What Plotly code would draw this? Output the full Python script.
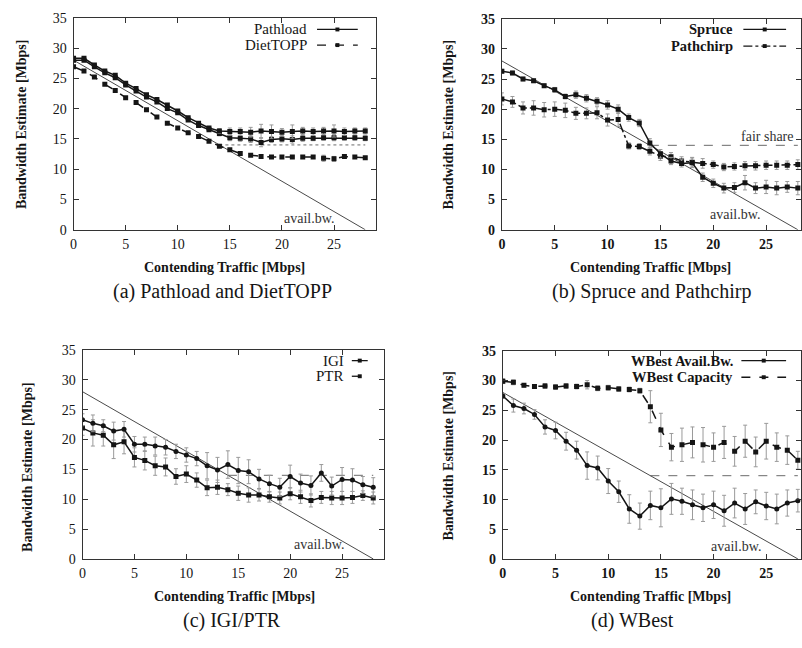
import plotly.graph_objects as go

W, H = 802, 648

# ---------------- data ----------------
x = list(range(29))

# (a) Pathload and DietTOPP
pathload_hi = [28.3, 28.3, 27.2, 26.2, 25.5, 24.2, 23.3, 22.3, 21.5, 20.6, 19.6, 18.5, 17.6, 16.8,
               16.3, 16.2, 16.2, 16.1, 16.3, 16.2, 16.1, 16.2, 16.3, 16.2, 16.3, 16.3, 16.2, 16.3, 16.3]
pathload_hi_err = [0.2] * 14 + [0.4, 0.6, 0.6, 0.8, 1.1, 1.1, 0.6, 1.1, 0.6, 0.6, 0.6, 1.0, 0.6, 0.5, 0.5]
pathload_lo = [28.0, 28.0, 26.9, 25.9, 25.1, 23.9, 22.9, 21.9, 21.1, 20.0, 19.3, 18.1, 17.2, 16.5,
               15.9, 15.2, 15.1, 15.0, 14.4, 14.9, 15.0, 14.9, 15.1, 15.1, 15.2, 15.2, 15.2, 15.2, 15.1]
pathload_lo_err = [0.2] * 14 + [0.4, 0.5, 0.5, 0.6, 0.7, 0.5, 0.5, 0.6, 0.5, 0.4, 0.4, 0.5, 0.4, 0.4, 0.4]
diettopp = [26.9, 26.2, 25.2, 24.0, 23.0, 21.8, 21.0, 19.8, 18.6, 17.6, 16.8, 16.0, 15.4, 14.6,
            13.8, 13.2, 12.6, 12.3, 12.1, 12.0, 12.0, 12.0, 12.0, 12.0, 11.8, 11.7, 12.1, 12.0, 11.9]
diettopp_err = [0.2] * 18 + [0.3, 0.2, 0.2, 0.2, 0.2, 0.2, 0.5, 0.4, 0.2, 0.2, 0.2]

# (b) Spruce and Pathchirp
spruce = [26.3, 26.0, 25.0, 24.7, 23.9, 23.2, 22.1, 22.4, 21.8, 21.3, 20.7, 20.0, 18.6, 17.7,
          14.4, 12.6, 11.4, 11.0, 11.1, 8.7, 7.7, 6.9, 7.0, 7.8, 6.9, 7.1, 6.9, 7.1, 6.9]
spruce_err = [0.3, 0.3, 0.3, 0.3, 0.3, 0.4, 0.4, 0.6, 0.6, 0.6, 0.7, 0.7, 0.6, 0.6,
              0.7, 0.7, 0.6, 0.6, 0.8, 0.7, 0.7, 0.8, 0.8, 1.2, 0.9, 1.1, 1.1, 0.9, 1.1]
pathchirp = [21.7, 21.2, 20.2, 20.2, 19.9, 20.0, 19.8, 19.3, 19.3, 19.4, 18.2, 18.3, 13.9, 13.8,
             13.0, 12.2, 12.1, 11.4, 11.2, 11.0, 10.8, 10.4, 10.5, 10.6, 10.6, 10.7, 10.7, 10.7, 10.8]
pathchirp_err = [1.0, 0.9, 1.0, 1.2, 1.2, 1.2, 1.2, 1.0, 0.9, 1.0, 1.0, 1.2, 0.5, 0.5,
                 0.6, 0.7, 0.7, 0.7, 0.8, 0.8, 0.6, 0.6, 0.6, 0.7, 0.7, 0.7, 0.7, 0.7, 0.8]

# (c) IGI / PTR
igi = [23.3, 22.7, 22.3, 21.4, 21.7, 19.2, 19.2, 18.9, 18.7, 18.0, 17.4, 16.8, 15.6, 14.9,
       15.8, 14.8, 14.6, 13.4, 12.6, 12.0, 13.8, 12.7, 12.3, 14.4, 12.2, 13.3, 13.2, 12.4, 12.0]
igi_err = [1.0, 1.4, 1.0, 1.5, 1.3, 1.3, 1.2, 1.5, 1.3, 1.2, 1.2, 1.2, 2.2, 2.1,
           2.3, 2.2, 2.0, 1.6, 1.4, 1.5, 1.9, 1.5, 1.6, 1.4, 1.5, 2.0, 1.9, 1.4, 1.6]
ptr = [21.9, 21.1, 20.7, 19.1, 19.6, 17.0, 16.5, 15.6, 15.4, 13.8, 14.2, 13.2, 11.9, 12.0,
       11.6, 11.0, 10.7, 10.7, 10.4, 10.2, 10.9, 10.4, 9.8, 10.3, 10.2, 10.2, 10.3, 10.6, 10.2]
ptr_err = [1.2, 2.2, 1.8, 2.3, 2.0, 1.6, 1.6, 1.6, 1.5, 1.3, 1.4, 1.2, 1.3, 1.2,
           1.0, 1.2, 1.2, 1.0, 0.9, 1.0, 1.0, 1.1, 1.1, 1.0, 1.1, 1.1, 1.0, 0.8, 1.0]

# (d) WBest
wbest_avail = [27.4, 25.8, 25.3, 24.3, 22.2, 21.6, 19.8, 18.3, 15.7, 15.3, 13.1, 11.3, 8.4, 7.2,
               9.0, 8.6, 10.1, 9.7, 9.1, 8.6, 9.1, 8.1, 9.4, 8.4, 9.6, 8.9, 8.4, 9.4, 9.8]
wbest_avail_err = [0.4, 1.1, 0.9, 0.8, 1.2, 1.4, 1.5, 1.5, 2.3, 2.0, 2.1, 1.8, 2.4, 2.2,
                   2.4, 3.2, 2.6, 2.2, 2.5, 2.3, 2.3, 2.6, 2.5, 2.6, 2.0, 2.3, 2.5, 2.2, 1.9]
wbest_cap = [29.9, 29.7, 29.2, 29.0, 29.1, 28.9, 29.1, 29.0, 29.3, 28.7, 28.8, 28.6, 28.5, 28.3,
             25.6, 21.7, 18.8, 19.2, 19.6, 19.2, 18.8, 19.6, 18.1, 19.8, 18.0, 19.8, 18.8, 18.3, 16.6]
wbest_cap_err = [0.4, 0.4, 0.3, 0.3, 0.4, 0.4, 0.4, 0.4, 0.7, 0.4, 0.4, 0.4, 0.4, 0.4,
                 2.7, 2.8, 2.3, 2.8, 2.6, 2.9, 2.4, 2.7, 2.5, 2.7, 2.5, 3.0, 2.4, 2.4, 1.5]

# reference lines
avail_x = [0, 28]
avail_y = [28, 0]
fair_x = [14, 28]
fair_y = [14, 14]

x_tick_vals = [0, 5, 10, 15, 20, 25]
y_tick_vals = [0, 5, 10, 15, 20, 25, 30, 35]

captions = ["(a) Pathload and DietTOPP", "(b) Spruce and Pathchirp", "(c) IGI/PTR", "(d) WBest"]
x_title = "Contending Traffic [Mbps]"
y_title = "Bandwidth Estimate [Mbps]"

# ---------------- layout helpers ----------------
def px(v):
    return v / W

def py(v):
    return 1 - v / H

SERIF = "Liberation Serif"
INK = "#151515"

# panel geometry in pixels: (left, right, top, bottom, xmax)
panels = [
    (70, 374, 11, 228, 29.0),
    (501, 802, 12, 228, 28.3),
    (79, 382, 351, 565, 29.0),
    (502, 802, 352, 565, 28.3),
]

fig = go.Figure()

def ax_names(i):
    if i == 0:
        return "x", "y", "xaxis", "yaxis"
    return f"x{i+1}", f"y{i+1}", f"xaxis{i+1}", f"yaxis{i+1}"

def add_series(i, ys, err, dash, symbol, width=1.5):
    xa, ya, _, _ = ax_names(i)
    fig.add_trace(go.Scatter(
        x=x, y=ys, xaxis=xa, yaxis=ya, mode="lines+markers",
        line=dict(color=INK, width=width, dash=dash),
        marker=dict(symbol=symbol, size=5, color=INK),
        error_y=dict(type="data", array=err, color="#9a9a9a", thickness=1, width=2),
        showlegend=False, hoverinfo="skip"))

def add_refs(i, fair_dash="dot"):
    xa, ya, _, _ = ax_names(i)
    fig.add_trace(go.Scatter(x=fair_x, y=fair_y, xaxis=xa, yaxis=ya, mode="lines",
                             line=dict(color="#6a6a6a", width=1, dash=fair_dash),
                             showlegend=False, hoverinfo="skip"))
    fig.add_trace(go.Scatter(x=avail_x, y=avail_y, xaxis=xa, yaxis=ya, mode="lines",
                             line=dict(color="#4a4a4a", width=1),
                             showlegend=False, hoverinfo="skip"))

# (a)
add_refs(0, "dot")
add_series(0, diettopp, diettopp_err, "dash", "square")
add_series(0, pathload_lo, pathload_lo_err, "solid", "square")
add_series(0, pathload_hi, pathload_hi_err, "solid", "square")
# (b)
add_refs(1, "dash")
add_series(1, pathchirp, pathchirp_err, "dashdot", "square")
add_series(1, spruce, spruce_err, "solid", "square")
# (c)
add_refs(2, "dash")
add_series(2, ptr, ptr_err, "solid", "square")
add_series(2, igi, igi_err, "solid", "circle")
# (d)
add_refs(3, "dash")
add_series(3, wbest_cap, wbest_cap_err, "dash", "square")
add_series(3, wbest_avail, wbest_avail_err, "solid", "circle")

layout = dict(width=W, height=H, margin=dict(l=0, r=0, t=0, b=0),
              paper_bgcolor="white", plot_bgcolor="white")

for i, (l, r, t, b, xmax) in enumerate(panels):
    xa, ya, xk, yk = ax_names(i)
    bold = i in (1, 3)
    tf = dict(family=SERIF, size=14, color=INK, weight="bold" if bold else "normal")
    layout[xk] = dict(domain=[px(l), px(r)], range=[0, xmax], anchor=ya,
                      tickvals=x_tick_vals, ticks="inside", ticklen=5, tickcolor="#333",
                      showline=True, linecolor="#333", linewidth=1, mirror="ticks",
                      showgrid=False, zeroline=False, tickfont=tf, ticklabelstandoff=1,
                      fixedrange=True)
    layout[yk] = dict(domain=[py(b), py(t)], range=[0, 35], anchor=xa,
                      tickvals=y_tick_vals, ticks="inside", ticklen=5, tickcolor="#333",
                      showline=True, linecolor="#333", linewidth=1, mirror="ticks",
                      showgrid=False, zeroline=False, tickfont=tf, ticklabelstandoff=3,
                      fixedrange=True)

fig.update_layout(**layout)

ann = []
shapes = []

def text(xp, yp, s, size=14, anchor="center", color=INK, bold=False, angle=0, family=SERIF):
    ann.append(dict(x=px(xp), y=py(yp), xref="paper", yref="paper", text=s, showarrow=False,
                    xanchor=anchor, yanchor="middle", textangle=angle, borderpad=0,
                    font=dict(family=family, size=size, color=color,
                              weight="bold" if bold else "normal")))

def legend_entry(x_text_right, y, label, x0, x1, dash, bold=False, size=15):
    text(x_text_right, y, label, size=size, anchor="right", bold=bold)
    shapes.append(dict(type="line", xref="paper", yref="paper", x0=px(x0), x1=px(x1),
                       y0=py(y), y1=py(y), line=dict(color=INK, width=1.3, dash=dash)))
    xm = (x0 + x1) / 2
    shapes.append(dict(type="rect", xref="paper", yref="paper", x0=px(xm - 2), x1=px(xm + 2),
                       y0=py(y + 2), y1=py(y - 2), line=dict(width=0), fillcolor=INK))

# axis titles
x_title_pos = [(222, 267), (651, 267), (232, 603), (651, 603)]
y_title_pos = [(17, 120), (447, 120), (23, 471), (447, 459)]
cap_pos = [(220, 291), (652, 291), (229, 628), (632, 628)]
for i in range(4):
    text(*x_title_pos[i], x_title, size=14, bold=True)
    text(*y_title_pos[i], y_title, size=14, bold=True, angle=-90)
    text(*cap_pos[i], captions[i], size=20)

# avail.bw. labels
for (xr, yy) in [(333, 217), (762, 212), (343, 550), (763, 552)]:
    text(xr, yy, "avail.bw.", size=14, anchor="right", color="#333")
text(795, 133, "fair share", size=14, anchor="right", color="#333")

# legends
legend_entry(306, 23, "Pathload", 315, 356, "solid")
legend_entry(306, 39, "DietTOPP", 315, 356, "dash")
legend_entry(735, 23, "Spruce", 744, 787, "solid", bold=True, size=14.5)
legend_entry(735, 40, "Pathchirp", 744, 787, "dashdot", bold=True, size=14.5)
legend_entry(343, 362, "IGI", 350, 366, "solid")
legend_entry(343, 378, "PTR", 350, 366, "dash")
legend_entry(735, 362, "WBest Avail.Bw.", 742, 787, "solid", bold=True, size=14.5)
legend_entry(735, 379, "WBest Capacity", 742, 787, "dash", bold=True, size=14.5)

fig.update_layout(annotations=ann, shapes=shapes)
fig.write_html("out.html", config={"displayModeBar": False},
               post_script="document.body.style.margin='0px';")
